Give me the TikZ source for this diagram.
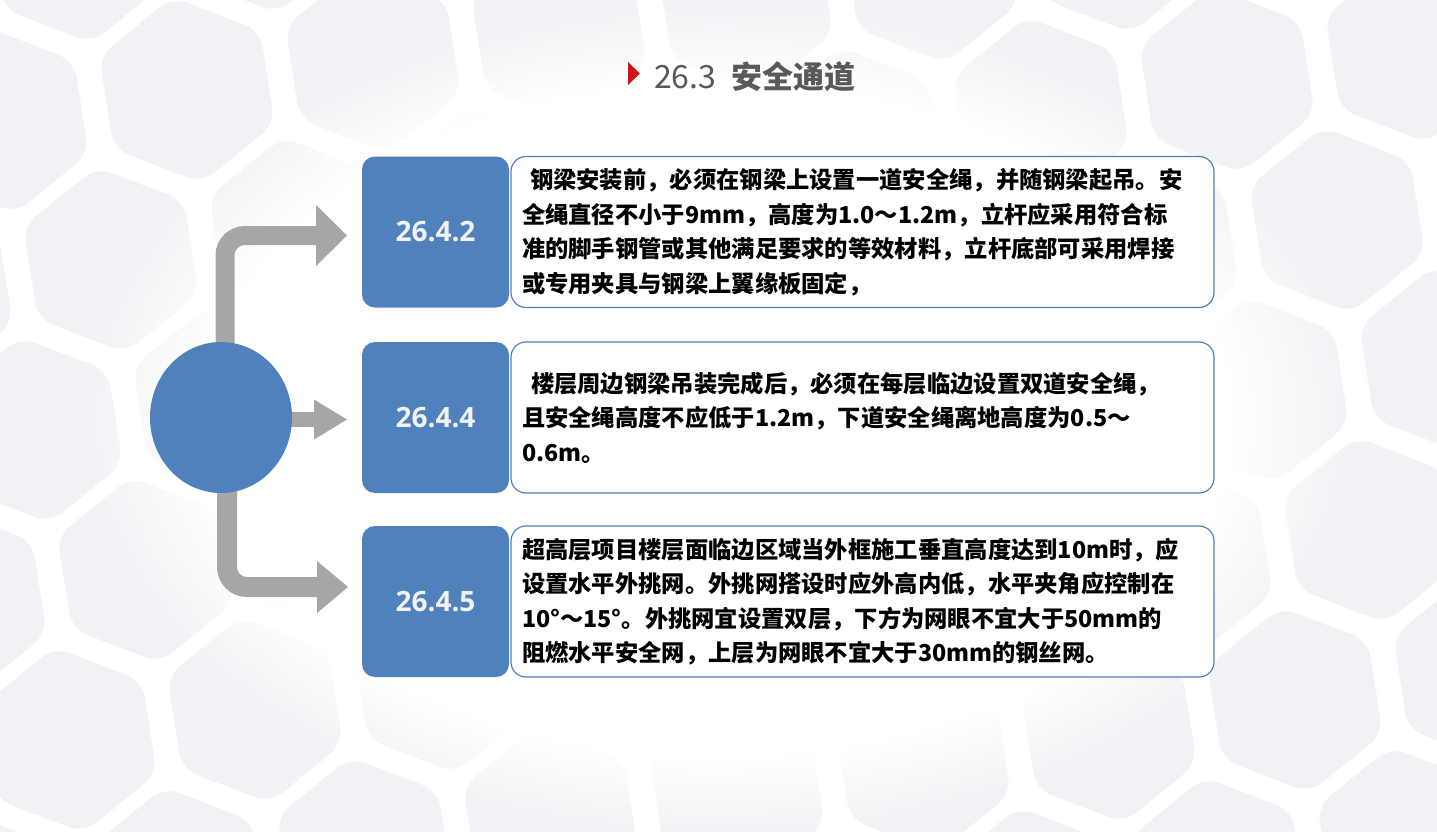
\documentclass[tikz,border=0pt]{standalone}
\usepackage{fontspec}
\newfontfamily\cjk{Noto Sans CJK SC}
\newfontfamily\opensans{Open Sans}
\usetikzlibrary{arrows.meta,backgrounds,shapes.geometric,fadings}
\definecolor{boxblue}{HTML}{4F81BD}
\definecolor{arrowgray}{HTML}{A6A6A6}
\definecolor{titlegray}{HTML}{595959}
\definecolor{hexfill}{HTML}{F0F2F5}
\definecolor{marker}{HTML}{D0121B}
\definecolor{numwhite}{HTML}{F2F2F2}
\begin{document}
\begin{tikzpicture}[x=1pt,y=-1pt,
  numbox/.style={fill=boxblue, rounded corners=13pt, minimum width=147pt, minimum height=151pt, inner sep=0pt, text=numwhite, font=\opensans\bfseries\fontsize{28}{32}\selectfont},
  textbox/.style={draw=boxblue, line width=1.2pt, fill=white, rounded corners=15pt, minimum width=703pt, minimum height=151pt, text width=681pt, inner xsep=11pt, inner ysep=0pt, align=left, font=\cjk\bfseries\fontsize{23.3}{34.5}\selectfont},
  ball/.style={ellipse, fill=boxblue, minimum width=142pt, minimum height=151pt, inner sep=0pt},
  gline/.style={draw=arrowgray, line cap=butt},
  hexshape/.style={fill=hexfill, rounded corners=16pt}
]
\useasboundingbox (0,0) rectangle (1437,832);
\begin{scope}[on background layer]
  \fill[white] (0,0) rectangle (1437,832);
  \begin{scope}
    \clip (0,0) rectangle (1437,832);
    \foreach \i in {-5,...,8}{
      \foreach \j in {-2,...,7}{
        \pgfmathsetmacro\cx{187+\i*186+\j*110}
        \pgfmathsetmacro\cy{90-\i*30+\j*140}
        \fill[hexshape, shift={(\cx,\cy)}, rotate=9]
          (90:94) -- (150:94) -- (210:94) -- (270:94) -- (330:94) -- (30:94) -- cycle;
      }
    }
    \fill[white, path fading=circle with fuzzy edge 20 percent] (718,420) ellipse (640 and 420);
  \end{scope}
\end{scope}

% title
\fill[marker] (628,62) -- (640,73.5) -- (628,85) -- cycle;
\node[anchor=base west, inner sep=0pt, text=titlegray, font=\cjk\fontsize{32}{36}\selectfont] (tnum) at (654,89) {26.3};
\node[anchor=base west, inner sep=0pt, text=titlegray, font=\cjk\bfseries\fontsize{31}{36}\selectfont] (ttl) at (731,89) {安全通道};

% circle
\node[ball] (c) at (221,417.5) {};

% number boxes
\node[numbox] (n1) at (435.5,232) {26.4.2};
\node[numbox] (n2) at (435.5,417.5) {26.4.4};
\node[numbox] (n3) at (435.5,601.5) {26.4.5};

% text boxes
\node[textbox] (b1) at (862.5,232) {\hspace*{8pt}钢梁安装前，必须在钢梁上设置一道安全绳，并随钢梁起吊。安\\全绳直径不小于9mm，高度为1.0～1.2m，立杆应采用符合标\\准的脚手钢管或其他满足要求的等效材料，立杆底部可采用焊接\\或专用夹具与钢梁上翼缘板固定，};
\node[textbox] (b2) at (862.5,417.5) {\hspace*{9pt}楼层周边钢梁吊装完成后，必须在每层临边设置双道安全绳，\\且安全绳高度不应低于1.2m，下道安全绳离地高度为0.5～\\0.6m。};
\node[textbox] (b3) at (862.5,601.5) {超高层项目楼层面临边区域当外框施工垂直高度达到10m时，应\\设置水平外挑网。外挑网搭设时应外高内低，水平夹角应控制在\\10°～15°。外挑网宜设置双层，下方为网眼不宜大于50mm的\\阻燃水平安全网，上层为网眼不宜大于30mm的钢丝网。};

% arrows
\coordinate (t1) at (347,235.5);
\coordinate (t2) at (347,419.5);
\coordinate (t3) at (348,587);
\begin{scope}[on background layer]
  \draw[gline, line width=19pt, rounded corners=20pt, -{Triangle[length=31pt,width=61pt,line width=0pt]}] ([xshift=4pt]c.center) |- (t1);
  \draw[gline, line width=15pt, -{Triangle[length=33pt,width=40pt,line width=0pt]}] (c.center |- t2) -- (t2);
  \draw[gline, line width=20pt, rounded corners=20pt, -{Triangle[length=31pt,width=52pt,line width=0pt]}] ([xshift=6pt]c.center) |- (t3);
\end{scope}
\end{tikzpicture}
\end{document}
